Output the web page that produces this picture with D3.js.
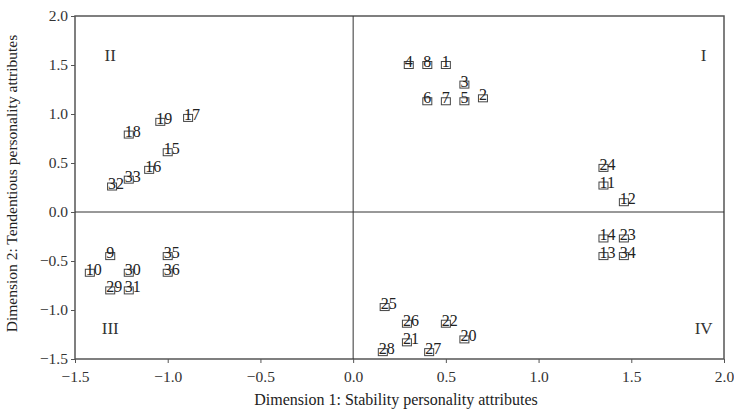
<!DOCTYPE html>
<html>
<head>
<meta charset="utf-8">
<script src="https://cdn.jsdelivr.net/npm/d3@7"></script>
<style>
  body { margin: 0; background: #fff; }
  svg text { font-family: "Liberation Serif", "DejaVu Serif", serif; }
</style>
</head>
<body>
<div id="chart"></div>
<script>
// Attribute positions on the two dimensions
const ids = [1, 2, 3, 4, 5, 6, 7, 8, 9, 10, 11, 12, 13, 14, 15, 16, 17, 18,
  19, 20, 21, 22, 23, 24, 25, 26, 27, 28, 29, 30, 31, 32, 33, 34, 35, 36];
const dim1 = [0.5, 0.7, 0.6, 0.3, 0.6, 0.4, 0.5, 0.4, -1.31, -1.42, 1.35, 1.46, 1.35, 1.35, -1.0, -1.1, -0.89, -1.21,
  -1.04, 0.6, 0.29, 0.5, 1.46, 1.35, 0.17, 0.29, 0.41, 0.16, -1.31, -1.21, -1.21, -1.3, -1.21, 1.46, -1.0, -1.0];
const dim2 = [1.5, 1.16, 1.3, 1.5, 1.13, 1.13, 1.13, 1.5, -0.45, -0.62, 0.27, 0.1, -0.45, -0.27, 0.61, 0.43, 0.96, 0.79,
  0.92, -1.3, -1.33, -1.14, -0.27, 0.45, -0.97, -1.14, -1.43, -1.43, -0.8, -0.62, -0.8, 0.26, 0.33, -0.45, -0.45, -0.62];

const xTicks = [-1.5, -1.0, -0.5, 0.0, 0.5, 1.0, 1.5, 2.0];
const yTicks = [-1.5, -1.0, -0.5, 0.0, 0.5, 1.0, 1.5, 2.0];

const quadrants = [
  { label: "I", x: 1.89, y: 1.54 },
  { label: "II", x: -1.31, y: 1.54 },
  { label: "III", x: -1.31, y: -1.24 },
  { label: "IV", x: 1.89, y: -1.24 }
];

const width = 734, height = 412;
const margin = { top: 16, right: 10, bottom: 53, left: 75 };

const svg = d3.select("#chart").append("svg")
  .attr("width", width)
  .attr("height", height);

const x = d3.scaleLinear().domain([-1.5, 2.0]).range([margin.left, width - margin.right]);
const y = d3.scaleLinear().domain([-1.5, 2.0]).range([height - margin.bottom, margin.top]);

const fmt = d => d3.format(".1f")(d).replace("-", "\u2212");

// axes
const xAxis = svg.append("g")
  .attr("transform", `translate(0,${y(-1.5)})`)
  .call(d3.axisBottom(x).tickValues(xTicks).tickFormat(fmt).tickSize(4).tickSizeOuter(0));
const yAxis = svg.append("g")
  .attr("transform", `translate(${x(-1.5)},0)`)
  .call(d3.axisLeft(y).tickValues(yTicks).tickFormat(fmt).tickSize(4).tickSizeOuter(0));

[xAxis, yAxis].forEach(a => {
  a.select(".domain").remove();
  a.selectAll(".tick line").attr("stroke", "#555");
  a.selectAll(".tick text")
    .attr("font-family", "Liberation Serif")
    .attr("font-size", 15.5)
    .attr("fill", "#333");
});
xAxis.selectAll(".tick text").attr("dy", "1.0em");
yAxis.selectAll(".tick text").attr("x", -7);

// frame
svg.append("rect")
  .attr("x", x(-1.5))
  .attr("y", y(2.0))
  .attr("width", x(2.0) - x(-1.5))
  .attr("height", y(-1.5) - y(2.0))
  .attr("fill", "none")
  .attr("stroke", "#555")
  .attr("stroke-width", 1.5);

// zero lines
svg.append("line")
  .attr("x1", x(0)).attr("x2", x(0))
  .attr("y1", y(2.0)).attr("y2", y(-1.5))
  .attr("stroke", "#333").attr("stroke-width", 1);
svg.append("line")
  .attr("x1", x(-1.5)).attr("x2", x(2.0))
  .attr("y1", y(0)).attr("y2", y(0))
  .attr("stroke", "#333").attr("stroke-width", 1);

// quadrant labels
svg.selectAll(".quad")
  .data(quadrants)
  .enter().append("text")
  .attr("class", "quad")
  .attr("x", d => x(d.x))
  .attr("y", d => y(d.y))
  .attr("text-anchor", "middle")
  .attr("font-size", 17)
  .attr("fill", "#333")
  .text(d => d.label);

// points
const points = ids.map((id, i) => ({ id: id, x: dim1[i], y: dim2[i] }));

const pt = svg.append("g")
  .selectAll("g")
  .data(points)
  .enter().append("g")
  .attr("transform", d => `translate(${x(d.x)},${y(d.y)})`);

pt.append("rect")
  .attr("x", -4.5)
  .attr("y", -3.5)
  .attr("width", 9)
  .attr("height", 7)
  .attr("fill", "none")
  .attr("stroke", "#444")
  .attr("stroke-width", 1);

pt.append("text")
  .attr("x", -4)
  .attr("y", 2)
  .attr("font-size", 16)
  .attr("fill", "#222")
  .text(d => d.id);

// axis titles
svg.append("text")
  .attr("x", 396)
  .attr("y", 405)
  .attr("text-anchor", "middle")
  .attr("font-size", 16)
  .attr("fill", "#222")
  .text("Dimension 1: Stability personality attributes");

svg.append("text")
  .attr("transform", `translate(17,${(y(-1.5) + y(2.0)) / 2 - 4}) rotate(-90)`)
  .attr("text-anchor", "middle")
  .attr("font-size", 15.5)
  .attr("fill", "#222")
  .text("Dimension 2: Tendentious personality attributes");
</script>
</body>
</html>
